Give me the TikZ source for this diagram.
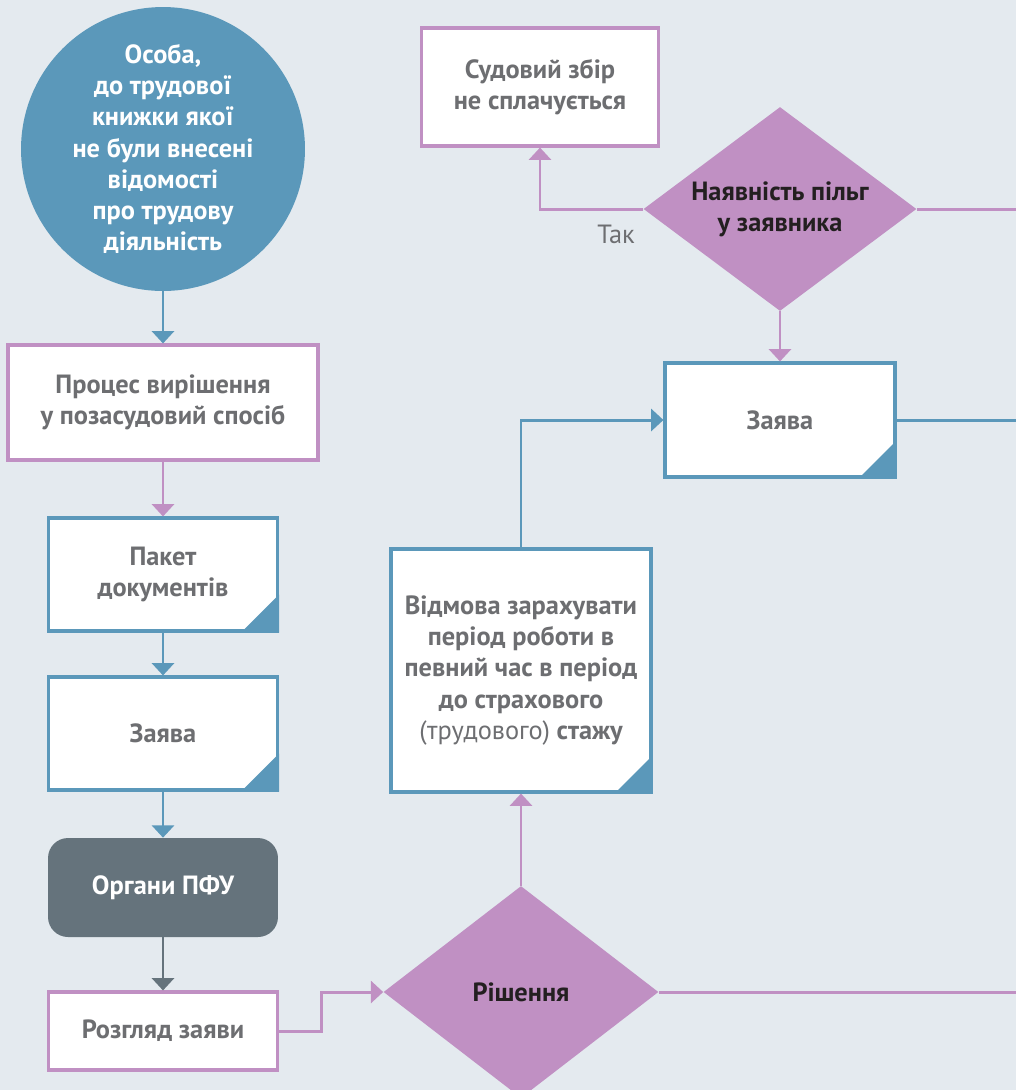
\documentclass[tikz,border=0pt]{standalone}
\usepackage{fontspec}
\setmainfont{PT Sans}
\usepackage{tikz}
\usetikzlibrary{arrows.meta,shapes.geometric}

\definecolor{bgcol}{HTML}{E4EAEF}
\definecolor{flowblue}{HTML}{5B98BA}
\definecolor{flowpink}{HTML}{C090C3}
\definecolor{textgray}{HTML}{6D6E71}
\definecolor{textdark}{HTML}{231F20}
\definecolor{organgray}{HTML}{65737C}
\newcommand{\flowsize}{\fontsize{15}{17.8}\selectfont}

\begin{document}
\begin{tikzpicture}[x=0.02cm, y=-0.02cm,
    font={\flowsize\bfseries},
    plainbox/.style={draw=flowpink, line width=1.8pt, fill=white, text=textgray, align=center, inner sep=0pt},
    docbox/.style={draw=flowblue, line width=1.8pt, fill=white, text=textgray, align=center, inner sep=0pt},
    decision/.style={diamond, aspect=1.34, fill=flowpink, text=textdark, align=center, inner sep=0pt},
    flowline/.style={line width=1.7pt},
    link/.style={flowline, -{Triangle[width=12.5pt,length=7pt]}}]
    % Background and page frame
    \fill[bgcol] (0,0) rectangle (1016,1090);
    \useasboundingbox (0,0) rectangle (1016,1090);

    % Left column
    \node[circle, fill=flowblue, text=white, align=center, inner sep=0pt, minimum size=5.68cm] (osoba) at (163,149)
        {Особа,\\до трудової\\книжки якої\\не були внесені\\відомості\\про трудову\\діяльність};
    \node[plainbox, minimum width=6.2cm, minimum height=2.3cm] (proces) at (163,402.5)
        {Процес вирішення\\у позасудовий спосіб};
    \node[docbox, minimum width=4.58cm, minimum height=2.26cm] (paket) at (163,574.5) {Пакет\\документів};
    \node[docbox, minimum width=4.58cm, minimum height=2.26cm] (zayava) at (163,733.5) {Заява};
    \node[fill=organgray, text=white, rounded corners=0.4cm, minimum width=4.6cm, minimum height=1.98cm] (pfu) at (163,887.5) {Органи ПФУ};
    \node[plainbox, minimum width=4.58cm, minimum height=1.56cm] (rozglyad) at (163,1031) {Розгляд заяви};

    % Decisions and right part
    \node[decision, minimum width=5.5cm, minimum height=4.24cm] (rishennya) at (521,992) {Рішення};
    \node[docbox, minimum width=5.2cm, minimum height=4.86cm] (vidmova) at (521,670.5)
        {Відмова зарахувати\\період роботи в\\певний час в період\\до страхового\\\textmd{(трудового)} стажу};
    \node[docbox, minimum width=4.6cm, minimum height=2.28cm] (zayava2) at (780,420) {Заява};
    \node[decision, minimum width=5.46cm, minimum height=4.08cm] (pilgy) at (780,209) {Наявність пільг\\у заявника};
    \node[plainbox, minimum width=4.74cm, minimum height=2.36cm] (zbir) at (540,87) {Судовий збір\\не сплачується};
    \node[text=textgray, font=\flowsize] (tak) at (616,234) {Так};

    % Folded corners of the documents
    \foreach \n in {paket,zayava,vidmova,zayava2}
        \fill[flowblue] (\n.south east) -- ++(-38,0) -- ++(38,-38) -- cycle;

    % Page edge ends
    \coordinate (pilgyEnd) at (1016,209);
    \coordinate (zayavaEnd) at (1016,420);
    \coordinate (rishEnd) at (1016,992);

    % Connectors
    \draw[link, flowblue] (osoba.south) -- (proces.north);
    \draw[link, flowpink] (proces.south) -- (paket.north);
    \draw[link, flowblue] (paket.south) -- (zayava.north);
    \draw[link, flowblue] (zayava.south) -- (pfu.north);
    \draw[link, organgray] (pfu.south) -- (rozglyad.north);
    \draw[link, flowpink] (rozglyad.east) -- ++(42,0) |- (rishennya.west);
    \draw[link, flowpink] (rishennya.north) -- (vidmova.south);
    \draw[flowline, flowpink] (rishennya.east) -- (rishEnd);
    \draw[link, flowblue] (vidmova.north) |- (zayava2.west);
    \draw[flowline, flowblue] (zayava2.east) -- (zayavaEnd);
    \draw[link, flowpink] (pilgy.south) -- (zayava2.north);
    \draw[link, flowpink] (pilgy.west) -| (zbir.south);
    \draw[flowline, flowpink] (pilgy.east) -- (pilgyEnd);
\end{tikzpicture}
\end{document}
